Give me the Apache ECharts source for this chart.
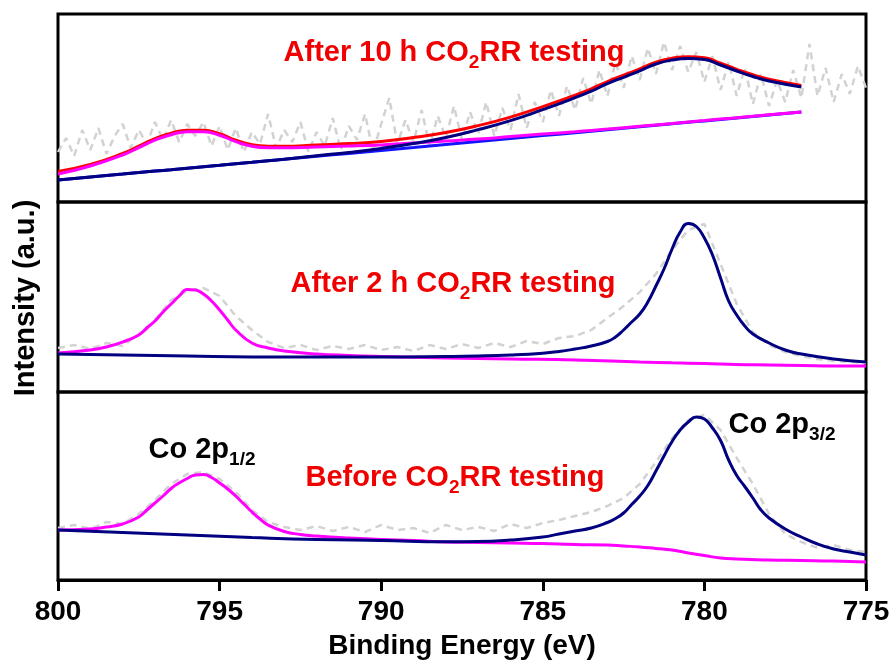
<!DOCTYPE html>
<html><head><meta charset="utf-8">
<script src="https://cdn.jsdelivr.net/npm/echarts@6/dist/echarts.min.js"></script>
<style>html,body{margin:0;padding:0;background:#fff}#c{width:895px;height:666px}</style>
</head><body><div id="c"></div>
<script>
// ---- Raw-data energy grids (eV) ----
const rawEnergyTop = [800,799.75,799.5,799.25,799,798.75,798.5,798.25,798,797.75,797.5,797.25,797,796.75,796.5,796.25,796,795.75,795.5,795.25,795,794.75,794.5,794.25,794,793.75,793.5,793.25,793,792.75,792.5,792.25,792,791.75,791.5,791.25,791,790.75,790.5,790.25,790,789.75,789.5,789.25,789,788.75,788.5,788.25,788,787.75,787.5,787.25,787,786.75,786.5,786.25,786,785.75,785.5,785.25,785,784.75,784.5,784.25,784,783.75,783.5,783.25,783,782.75,782.5,782.25,782,781.75,781.5,781.25,781,780.75,780.5,780.25,780,779.75,779.5,779.25,779,778.75,778.5,778.25,778,777.75,777.5,777.25,777,776.75,776.5,776.25,776,775.75,775.5,775.25,775];
const rawEnergy = [800,799.5,799,798.5,798,797.5,797,796.5,796,795.5,795,794.5,794,793.5,793,792.5,792,791.5,791,790.5,790,789.5,789,788.5,788,787.5,787,786.5,786,785.5,785,784.5,784,783.5,783,782.5,782,781.5,781,780.5,780,779.5,779,778.5,778,777.5,777,776.5,776,775.5,775];

// ---- Top panel: After 10 h CO2RR testing ----
const energyTop = [800,799,798,797.5,797,796.5,796,795.5,795,794.5,794,793.5,793,792,791,790,789,788,787,786,785,784,783.5,783,782.5,782,781.5,781,780.5,780,779.5,779,778.5,778,777];
const topRaw = [50, 64,46,72,52, 74,48,66,78, 54,72,58,80, 62,82,60,78, 66,80,56,76, 52,74,50,70, 58,88,54,72, 60,80,50,70, 56,84,52,76, 62,88,50,78, 104,58,82,60, 92,56,86,64, 96,62,90,68, 100,66,94,72, 108,74,100,80, 112,86,116,92, 124,98,132,106, 140,114,146,122, 154,128,160,132, 156,130,150,120, 146,112,140,106, 134,98,128,96, 122,100,132,104, 158,106,134,100, 128,108,136,114];
const topBaseline = [22,25,27.9,29.4,30.9,32.3,33.8,35.3,36.8,38.3,39.7,41.2,42.7,45.7,48.6,51.6,54.5,57.5,60.4,63.4,66.4,69.3,70.8,72.3,73.7,75.2,76.7,78.2,79.7,81.1,82.6,84.1,85.6,87,90];
const topEnvelope = [30.5,37.5,48.5,55.9,63.4,68.8,71.8,71.8,68.3,61.8,57.2,55.7,55.7,57.1,58.4,60.6,64.5,69.5,76.4,84.9,95.4,106.8,113.1,120.4,126.8,133.2,139.9,143.8,145.3,144.3,138.8,132.7,127.2,122.7,116.6];
const topP12 = [28,36,47,54.4,61.9,67.3,70.3,70.3,66.8,60.3,55.7,54.2,54.2,55.1,55.9,57.1,59,61,62.9,65.4,67.9,70.3,71.6,72.9,74.3,75.7,77.1,78.5,80,81.4,82.9,84.3,85.8,87.2,90.1];
const topP32 = [22,25,27.9,29.4,30.9,32.3,33.8,35.3,36.8,38.3,39.7,41.2,42.7,46.2,49.6,53.6,58.5,64.5,72.4,81.4,92.4,104.3,110.8,118.3,124.7,131.2,138,142,143.5,142.5,137,131,125.5,121,115];

// ---- Middle panel: After 2 h CO2RR testing ----
const midRaw = [44,47,43,49,46,58,72,92,101,104,96,76,62,50,44,47,42,46,43,47,42,45,41,47,43,48,44,49,45,51,48,54,56,62,74,86,100,118,142,162,168,128,88,60,47,40,36,33,31,30,29];
const midP12E = [800,799,798.5,798,797.5,797.25,797,796.75,796.5,796.25,796,795.75,795.5,795.25,795,794.75,794.5,794,793.5,793,792,791,790,788,786,784,782,781,780,779,778,777,776,775];
const midP12 = [39,42,45,50,57,64,71,80,88,96,102.5,102,98,91,82,72,62,49,44,41,38,36.5,35.5,34,33,32,30,29.2,28.5,27.5,27,26.5,26,26];
const midP32E = [800,798,796,794,792,790,788,787,786,785,784.5,784,783.5,783,782.75,782.5,782.25,782,781.75,781.5,781.25,781,780.75,780.5,780.25,780,779.75,779.5,779.25,779,778.75,778.5,778,777.5,777,776,775];
const midP32 = [38,37,36,35,35,35,35.5,36,37,38.8,40.5,43,46,50.5,55,62,70,78,90,106,123,143,160,168.5,165.5,154,137,114,91,77,66,58,49,42,38,33,30];

// ---- Bottom panel: Before CO2RR testing ----
const botRaw = [52,55,51,58,56,66,80,96,106,108,101,88,70,58,53,50,54,49,53,48,55,50,52,47,55,50,53,49,56,52,57,60,64,68,74,82,96,118,142,160,165,150,122,96,66,46,38,32,35,30,28];
const botP12E = [800,799,798.5,798,797.5,797.25,797,796.75,796.5,796.25,796,795.75,795.5,795.25,795,794.75,794.5,794.25,794,793.75,793.5,793,792.5,792,791,790,789,788,787,786,785,784,783,782.5,782,781.5,781,780.5,780,779.5,779,778,777,776,775];
const botP12 = [50,51,53,56,63,70,77,84,91.5,97,101.5,105,105.5,102.5,97,91,84,76,68,61,55,48.5,45.5,44,42,40.5,39.5,38,37.5,37,36.5,35.5,35,34,33,31.5,30,27,24.5,22,21,20,19.5,19,18];
const botP32E = [800,798,796,794,792,790,788,787,786,785,784.5,784,783.5,783,782.75,782.5,782.25,782,781.75,781.5,781.25,781,780.75,780.5,780.25,780,779.75,779.5,779.25,779,778.75,778.5,778.25,778,777.5,777,776.5,776,775.5,775];
const botP32 = [50,47.5,45,42.5,40.5,39.5,38.3,38.5,40,43,46,49,52,57.5,61.5,67,75.5,84,94.5,109,124,138.5,150,158,163,161,152,139.5,120,104.5,93.5,82,70,62,51,43,36,31,28,25];

// ---- Axis / labels ----
const xTicks = {min: 775, max: 800, interval: 5};
const xName = 'Binding Energy (eV)';
const yName = 'Intensity (a.u.)';

const FONT = '"Liberation Sans", Arial, sans-serif';
const NAVY = '#000080', MAG = '#ff00ff', RED = '#ff0000', BLUE = '#1414ff', GREY = '#d2d2d2';

const gridDefs = [
  {top: 14, height: 188},
  {top: 202, height: 190},
  {top: 392, height: 188}
];

function pairs(xs, ys) { return xs.map((x, i) => [x, ys[i]]); }
function line(g, xs, ys, color, extra) {
  return Object.assign({
    type: 'line', xAxisIndex: g, yAxisIndex: g, data: pairs(xs, ys),
    showSymbol: false, symbol: 'none', smooth: 0.5,
    lineStyle: {color: color, width: 3}, itemStyle: {color: color},
    silent: true, animation: false
  }, extra || {});
}
function raw(g, xs, ys) {
  return line(g, xs, ys, GREY, {smooth: false, lineStyle: {color: GREY, width: 2.5, type: [7, 5]}});
}

const series = [
  raw(0, rawEnergyTop, topRaw),
  line(0, energyTop, topBaseline, BLUE),
  line(0, energyTop, topEnvelope, RED),
  line(0, energyTop, topP12, MAG),
  line(0, energyTop, topP32, NAVY),
  raw(1, rawEnergy, midRaw),
  line(1, midP12E, midP12, MAG),
  line(1, midP32E, midP32, NAVY),
  raw(2, rawEnergy, botRaw),
  line(2, botP12E, botP12, MAG),
  line(2, botP32E, botP32, NAVY)
];

function richStyles(color) {
  return {
    a: {fontSize: 29, fontWeight: 'bold', fontFamily: FONT, lineHeight: 30, verticalAlign: 'top', fill: color, color: color},
    s: {fontSize: 19, fontWeight: 'bold', fontFamily: FONT, lineHeight: 19, padding: [15, 0, 0, 0], verticalAlign: 'top', fill: color, color: color}
  };
}
function label(text, cx, baseline, color) {
  return {
    type: 'text', x: cx, y: baseline - 22, z: 100,
    style: {text: text, rich: richStyles(color), align: 'center', verticalAlign: 'top', fill: color}
  };
}

const option = {
  backgroundColor: '#fff',
  animation: false,
  grid: gridDefs.map(d => ({left: 58, right: 29, top: d.top, height: d.height, show: true,
    borderColor: '#000', borderWidth: 3, backgroundColor: 'transparent', containLabel: false})),
  xAxis: gridDefs.map((d, i) => ({
    type: 'value', gridIndex: i, min: xTicks.min, max: xTicks.max, interval: xTicks.interval, inverse: true,
    axisLine: {show: i === 2, lineStyle: {color: '#000', width: 3}},
    axisTick: {show: i === 2, inside: false, length: 11, lineStyle: {color: '#000', width: 3}},
    axisLabel: {show: i === 2, fontSize: 28, fontWeight: 'bold', color: '#000', fontFamily: FONT, margin: 18},
    splitLine: {show: false},
    name: i === 2 ? xName : '', nameLocation: 'middle', nameGap: 52,
    nameTextStyle: {fontSize: 28, fontWeight: 'bold', color: '#000', fontFamily: FONT}
  })),
  yAxis: gridDefs.map((d, i) => ({
    type: 'value', gridIndex: i, min: 0, max: d.height, show: false, splitLine: {show: false}
  })),
  series: series,
  graphic: [
    label('{a|After 10 h CO}{s|2}{a|RR testing}', 454, 60, '#f00000'),
    label('{a|After 2 h CO}{s|2}{a|RR testing}', 453, 291, '#f00000'),
    label('{a|Before CO}{s|2}{a|RR testing}', 455, 485, '#f00000'),
    label('{a|Co 2p}{s|1/2}', 202, 457, '#000'),
    label('{a|Co 2p}{s|3/2}', 782, 432, '#000'),
    {type: 'text', x: 26, y: 298, rotation: Math.PI / 2, z: 100,
     style: {text: yName, fontSize: 29, fontWeight: 'bold', fontFamily: FONT, fill: '#000', align: 'center', verticalAlign: 'middle'}}
  ]
};

const chart = echarts.init(document.getElementById('c'), null, {renderer: 'canvas'});
chart.setOption(option);
</script>
</body></html>
